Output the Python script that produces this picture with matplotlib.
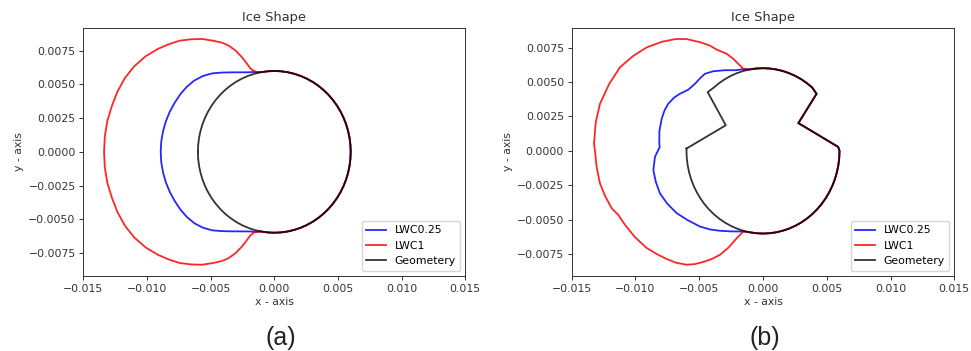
import numpy as np
import matplotlib
matplotlib.use("Agg")
import matplotlib.pyplot as plt

# ---- data: polar (angle in degrees, radius in m) ----

# (a) clean cylinder geometry, radius 0.006
geo_a_deg = [-180, -175, -170, -165, -160, -155, -150, -145, -140, -135, -130, -125,
             -120, -115, -110, -105, -100, -95, -90, -85, -80, -75, -70, -65, -60, -55,
             -50, -45, -40, -35, -30, -25, -20, -15, -10, -5, 0, 5, 10, 15, 20, 25, 30,
             35, 40, 45, 50, 55, 60, 65, 70, 75, 80, 85, 90, 95, 100, 105, 110, 115,
             120, 125, 130, 135, 140, 145, 150, 155, 160, 165, 170, 175, 180]
geo_a_r = [0.006] * len(geo_a_deg)

# (a) ice shapes, left side (from top junction round to bottom junction)
lwc025_a_deg = [104.4, 107, 110, 115, 120, 125, 130, 135, 140, 145, 150, 155, 160, 165,
                170, 175, 180, 185, 190, 195, 200, 205, 210, 215, 220, 225, 230, 235,
                240, 245, 250, 253, 255.6]
lwc025_a_r = [0.00613, 0.00618, 0.00628, 0.00651, 0.00681, 0.00718, 0.00760, 0.00795,
              0.00822, 0.00840, 0.00853, 0.00863, 0.00873, 0.00881, 0.00887, 0.00891,
              0.00892, 0.00891, 0.00887, 0.00881, 0.00873, 0.00863, 0.00853, 0.00840,
              0.00822, 0.00795, 0.00760, 0.00718, 0.00681, 0.00651, 0.00628, 0.00618,
              0.00613]

lwc1_a_deg = [103.3, 105, 107, 108.5, 110, 112, 114.6, 117, 120, 124, 128, 132, 136, 140,
              145, 150, 155, 160, 165, 170, 175, 180, 185, 190, 195, 200, 205, 210, 215,
              220, 224, 228, 232, 236, 240, 243, 245.4, 248, 250, 251.5, 253, 255, 256.7]
lwc1_a_r = [0.0061, 0.0062, 0.0065, 0.0070, 0.0075, 0.0081, 0.00869, 0.0091, 0.00951,
            0.0101, 0.0106, 0.0111, 0.0115, 0.0119, 0.01235, 0.0127, 0.01295, 0.0131,
            0.0132, 0.01331, 0.01336, 0.01337, 0.01336, 0.01331, 0.0132, 0.0131,
            0.01295, 0.0127, 0.01235, 0.0119, 0.0115, 0.0111, 0.0106, 0.0101, 0.00951,
            0.0091, 0.00869, 0.0081, 0.0075, 0.0070, 0.0065, 0.0062, 0.0061]

# (b) notched geometry
geo_b_deg = [-181.6, -180, -175, -170, -165, -160, -155, -150, -145, -140, -135, -130,
             -125, -120, -115, -110, -105, -100, -95, -90, -85, -80, -75, -70, -65, -60,
             -55, -50, -45, -40, -35, -30, -25, -20, -15, -10, -5, 0, 2.8, 36, 44.6, 50,
             55, 60, 65, 70, 75, 80, 85, 90, 95, 100, 105, 110, 115, 120, 125, 130,
             135.5, 147.5, 178.4]
geo_b_r = [0.006, 0.006, 0.006, 0.006, 0.006, 0.006, 0.006, 0.006, 0.006, 0.006,
           0.006, 0.006, 0.006, 0.006, 0.006, 0.006, 0.006, 0.006, 0.006, 0.006,
           0.006, 0.006, 0.006, 0.006, 0.006, 0.006, 0.006, 0.006, 0.006, 0.006,
           0.006, 0.006, 0.006, 0.006, 0.006, 0.006, 0.006, 0.006,
           0.0059, 0.00343, 0.0059,
           0.006, 0.006, 0.006, 0.006, 0.006, 0.006, 0.006, 0.006, 0.006, 0.006,
           0.006, 0.006, 0.006, 0.006, 0.006, 0.006, 0.006,
           0.00608, 0.00346, 0.006]

# (b) ice shapes, left side
lwc025_b_deg = [103.3, 110, 117, 124, 129.1, 133, 137.6, 142.8, 147.5, 151, 155.3, 159,
                163.6, 170, 176.3, 178, 182.9, 189.2, 195, 200.9, 207, 213.7, 220, 228,
                234, 239.8, 247, 255.3]
lwc025_b_r = [0.00611, 0.00623, 0.00657, 0.00697, 0.00721, 0.00722, 0.00722, 0.00735,
              0.00772, 0.00797, 0.00818, 0.00826, 0.00828, 0.00825, 0.00815, 0.00810,
              0.00848, 0.00871, 0.00870, 0.00865, 0.00843, 0.00814, 0.00778, 0.00739,
              0.00705, 0.00671, 0.00635, 0.00605]

lwc1_b_deg = [104.2, 109.2, 112.0, 116.3, 118.6, 122, 126.4, 130, 135, 140.5, 146, 151.6,
              158, 165.0, 171, 177.7, 180.2, 185, 190.5, 195, 199.4, 202.3, 206.4, 212,
              217.7, 222, 226, 230, 234.1, 237, 240, 243, 245.9, 249, 252.0, 255.3]
lwc1_b_r = [0.0061, 0.00707, 0.0076, 0.0082, 0.0087, 0.0093, 0.01008, 0.0106, 0.0112,
            0.01181, 0.0123, 0.01275, 0.0130, 0.01323, 0.01328, 0.01326, 0.01317, 0.0131,
            0.0130, 0.0128, 0.01257, 0.01226, 0.01208, 0.01183, 0.01153, 0.0112, 0.0109,
            0.0106, 0.0102, 0.0098, 0.0093, 0.0088, 0.00826, 0.0075, 0.00666, 0.00605]

x_ticks = [-0.015, -0.010, -0.005, 0.000, 0.005, 0.010, 0.015]
y_ticks = [-0.0075, -0.0050, -0.0025, 0.0000, 0.0025, 0.0050, 0.0075]


def to_xy(deg, r):
    t = np.radians(np.asarray(deg, dtype=float))
    r = np.asarray(r, dtype=float)
    return r * np.cos(t), r * np.sin(t)


def ice_loop(ice_deg, ice_r, geo_deg, geo_r):
    # ice outline on the left, then the geometry on the right side, closed
    geo_deg = np.asarray(geo_deg, dtype=float)
    lo = ice_deg[-1] - 360
    hi = ice_deg[0]
    mask = (geo_deg > lo) & (geo_deg < hi)
    deg = np.concatenate([ice_deg, geo_deg[mask], ice_deg[:1]])
    r = np.concatenate([ice_r, np.asarray(geo_r)[mask], ice_r[:1]])
    return to_xy(deg, r)


plt.rcParams["font.family"] = "DejaVu Sans"
fs = 7.8

fig = plt.figure(figsize=(9.71, 3.51), dpi=100)
ax_a = fig.add_axes([83.3 / 971, 1 - 276 / 351, 382 / 971, 248.3 / 351])
ax_b = fig.add_axes([571.7 / 971, 1 - 276 / 351, 382.6 / 971, 248.3 / 351])

panels = [
    (ax_a, lwc025_a_deg, lwc025_a_r, lwc1_a_deg, lwc1_a_r, geo_a_deg, geo_a_r),
    (ax_b, lwc025_b_deg, lwc025_b_r, lwc1_b_deg, lwc1_b_r, geo_b_deg, geo_b_r),
]

for ax, d025, r025, d1, r1, gd, gr in panels:
    x, y = ice_loop(d025, r025, gd, gr)
    ax.plot(x, y, color="blue", lw=1.3, alpha=0.85, label="LWC0.25",
            solid_joinstyle="round")
    x, y = ice_loop(d1, r1, gd, gr)
    ax.plot(x, y, color="red", lw=1.3, alpha=0.85, label="LWC1",
            solid_joinstyle="round")
    x, y = to_xy(gd, gr)
    ax.plot(x, y, color="black", lw=1.3, alpha=0.8, label="Geometery",
            solid_joinstyle="round")

    ax.set_xlim(-0.015, 0.015)
    ax.set_xticks(x_ticks)
    ax.set_yticks(y_ticks)
    ax.tick_params(labelsize=fs, colors="#333", labelcolor="#333",
                   length=2.8, width=0.7, pad=2.7)
    for s in ax.spines.values():
        s.set_color("#333")
        s.set_linewidth(0.7)
    ax.set_title("Ice Shape", fontsize=fs * 1.2, color="#333", pad=4.8)
    ax.set_xlabel("x - axis", fontsize=fs, color="#333", labelpad=2.5)
    ax.set_ylabel("y - axis", fontsize=fs, color="#333", labelpad=3)
    ax.legend(loc="lower right", fontsize=fs, handlelength=1.8)

fig.text(281 / 971, 1 - 338 / 351, "(a)", fontsize=18, family="Liberation Sans",
         color="#222", ha="center", va="center")
fig.text(765 / 971, 1 - 338 / 351, "(b)", fontsize=18, family="Liberation Sans",
         color="#222", ha="center", va="center")

fig.savefig("out.png", dpi=100)
